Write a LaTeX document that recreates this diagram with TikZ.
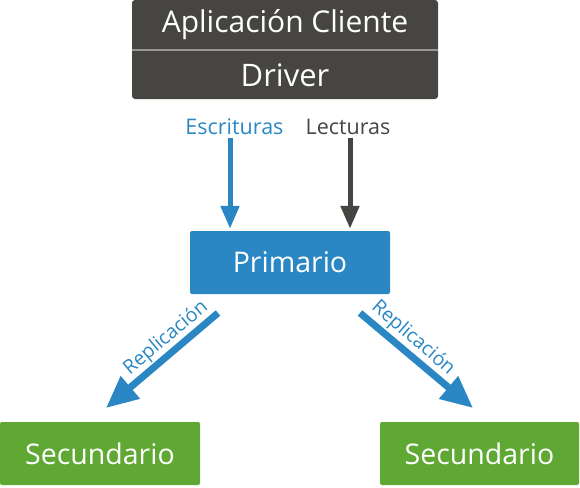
\documentclass[tikz,border=0pt]{standalone}
\usepackage{fontspec}
\setmainfont{Open Sans}
\usetikzlibrary{arrows.meta,calc}
\definecolor{dk}{HTML}{474541}
\definecolor{bl}{HTML}{2A87C4}
\definecolor{gr}{HTML}{5FA833}
\definecolor{dv}{HTML}{9A9894}
\begin{document}
\begin{tikzpicture}[x=1pt,y=-1pt,
  box/.style={inner sep=0pt,text=white,font=\fontsize{28.5}{30}\selectfont},
  lbl/.style={inner sep=0pt,font=\fontsize{21.5}{24}\selectfont},
  rep/.style={inner sep=0pt,text=bl,font=\fontsize{19.5}{22}\selectfont},
  varrow/.style={line width=5pt,-{Triangle[length=23pt,width=18pt]}},
  darrow/.style={line width=7pt,draw=bl,-{Triangle[length=32pt,width=28pt]}}]
\useasboundingbox (0,0) rectangle (580,487);
% top box
\fill[dk,rounded corners=3pt] (132,0) rectangle (438,99);
\node[box,minimum width=306pt,minimum height=49pt,font=\fontsize{30}{32}\selectfont] (app) at (285,25) {Aplicación Cliente};
\node[box,minimum width=306pt,minimum height=49pt,font=\fontsize{31}{32}\selectfont] (drv) at (285,75) {Driver};
\draw[dv,line width=2pt] (app.south west) -- (app.south east);
% labels
\node[lbl,text=bl,anchor=base] (esc) at (234.5,134) {Escrituras};
\node[lbl,text=dk,anchor=base] (lec) at (348,134) {Lecturas};
% primario
\node[box,fill=bl,rounded corners=2pt,minimum width=200pt,minimum height=63pt] (prim) at (290,262.5) {Primario};
% secundarios
\node[box,fill=gr,rounded corners=2pt,minimum width=200pt,minimum height=63pt] (sec1) at (100,453.5) {Secundario};
\node[box,fill=gr,rounded corners=2pt,minimum width=199pt,minimum height=63pt] (sec2) at (479.5,453.5) {Secundario};
% vertical arrows
\coordinate (w1) at (230,138);
\coordinate (r1) at (350,138);
\draw[varrow,bl] (w1) -- ($(w1 |- prim.north)+(0,-2)$);
\draw[varrow,dk] (r1) -- ($(r1 |- prim.north)+(0,-2)$);
% diagonal arrows
\coordinate (ls) at (218,313);
\coordinate (le) at (106,408);
\coordinate (rs) at (360,313);
\coordinate (re) at (473,408);
\draw[darrow] (ls) -- (le);
\draw[darrow] (rs) -- (re);
\node[rep,rotate=40] (repl) at (166,338) {Replicación};
\node[rep,rotate=-41] (repr) at (413,338) {Replicación};
\end{tikzpicture}
\end{document}
